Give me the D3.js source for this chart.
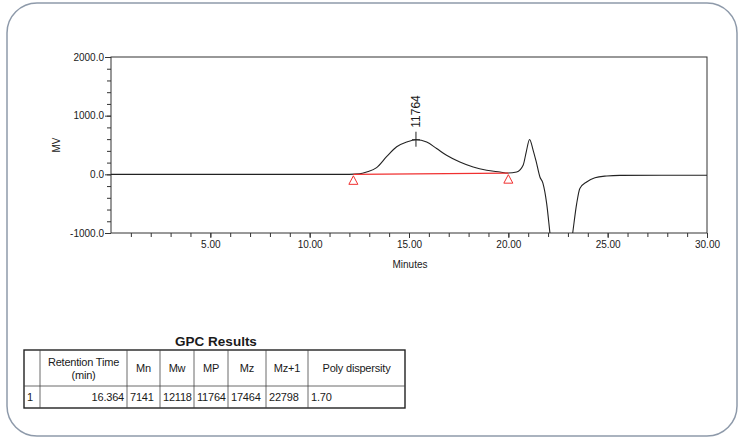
<!DOCTYPE html>
<html>
<head>
<meta charset="utf-8">
<script src="https://cdn.jsdelivr.net/npm/d3@7"></script>
<style>
  body { margin: 0; background: #fff; }
  svg { display: block; font-family: "Liberation Sans", Arial, sans-serif; }
</style>
</head>
<body>
<div id="chart"></div>
<script>
// chromatogram trace (minutes, mV)
const minutes = [0, 12.0, 12.5, 12.87, 13.37, 13.87, 14.38, 14.88, 15.35, 15.89, 16.39, 16.89, 17.56, 18.23, 18.91, 19.58, 19.98, 20.42, 20.75, 20.9, 21.07, 21.25, 21.4, 21.59, 21.74, 21.93, 22.09, 22.6, 23.24, 23.44, 23.6, 23.94, 24.36, 24.95, 25.62, 30]
const mv = [0, 0, 8, 40, 115, 300, 470, 550, 590, 550, 440, 325, 210, 125, 70, 40, 22, 40, 160, 380, 595, 410, 220, -45, -150, -500, -990, -2600, -1000, -500, -240, -130, -57, -28, -17, -15]

// integration baseline (start, end)
const baseTimes = [12.2, 20.0]
const baseValues = [0, 20]

// peak marker
const peakTime = 15.35
const peakValue = 590
const peakLabel = '11764'

const xMajor = [5, 10, 15, 20, 25, 30]
const yMajor = [-1000, 0, 1000, 2000]

// results table
const tableTitle = 'GPC Results'
const headers = [[''], ['Retention Time', '(min)'], ['Mn'], ['Mw'], ['MP'], ['Mz'], ['Mz+1'], ['Poly dispersity']]
const row = ['1', '16.364', '7141', '12118', '11764', '17464', '22798', '1.70']

const W = 746, H = 438
const svg = d3.select('#chart').append('svg').attr('width', W).attr('height', H)

// plain hyphen for negatives, like the original
const fmt = d3.formatLocale({ decimal: '.', thousands: ',', grouping: [3], currency: ['', ''], minus: '-' })

// rounded outer frame
svg.append('rect')
  .attr('x', 7).attr('y', 3).attr('width', 730).attr('height', 433)
  .attr('rx', 30).attr('ry', 30)
  .attr('fill', '#fff').attr('stroke', '#8e9aaa').attr('stroke-width', 1.5)

const pLeft = 111, pRight = 707, pTop = 57, pBottom = 233

const x = d3.scaleLinear().domain([0, 30]).range([pLeft, pRight])
const y = d3.scaleLinear().domain([-1000, 2000]).range([pBottom, pTop])

// plot box
svg.append('rect')
  .attr('x', pLeft).attr('y', pTop).attr('width', pRight - pLeft).attr('height', pBottom - pTop)
  .attr('fill', 'none').attr('stroke', '#333').attr('stroke-width', 1)

// x axis
const xAxis = svg.append('g').attr('transform', `translate(0,${pBottom})`)
xAxis.call(d3.axisBottom(x).tickValues(d3.range(1, 30)).tickSize(4).tickFormat(''))
xAxis.append('g').call(d3.axisBottom(x).tickValues(xMajor).tickSize(5).tickPadding(3).tickFormat(fmt.format('.2f')))
xAxis.selectAll('.domain').remove()
xAxis.selectAll('line').attr('stroke', '#333')
xAxis.selectAll('text').attr('font-size', 10).attr('fill', '#1a1a1a')

// y axis
const yAxis = svg.append('g').attr('transform', `translate(${pLeft},0)`)
yAxis.call(d3.axisLeft(y).tickValues(d3.range(-800, 2000, 200)).tickSize(4).tickFormat(''))
yAxis.append('g').call(d3.axisLeft(y).tickValues(yMajor).tickSize(6).tickPadding(1).tickFormat(fmt.format('.1f')))
yAxis.selectAll('.domain').remove()
yAxis.selectAll('line').attr('stroke', '#333')
yAxis.selectAll('text').attr('font-size', 10).attr('fill', '#1a1a1a')

svg.append('text')
  .attr('transform', `translate(60,${(pTop + pBottom) / 2}) rotate(-90)`)
  .attr('text-anchor', 'middle').attr('font-size', 10).attr('fill', '#1a1a1a')
  .text('MV')

svg.append('text')
  .attr('x', (pLeft + pRight) / 2 + 1).attr('y', 268)
  .attr('text-anchor', 'middle').attr('font-size', 10).attr('fill', '#1a1a1a')
  .text('Minutes')

// trace, clipped to plot area
svg.append('clipPath').attr('id', 'clip')
  .append('rect').attr('x', pLeft).attr('y', pTop).attr('width', pRight - pLeft).attr('height', pBottom - pTop)

const trace = minutes.map((t, i) => [t, mv[i]])
const makeLine = d3.line()
  .x((d) => x(d[0]))
  .y((d) => y(d[1]))
  .curve(d3.curveMonotoneX)

svg.append('path')
  .attr('clip-path', 'url(#clip)')
  .attr('d', makeLine(trace))
  .attr('fill', 'none').attr('stroke', '#222').attr('stroke-width', 1.1)

// baseline + triangles
svg.append('line')
  .attr('x1', x(baseTimes[0])).attr('y1', y(baseValues[0]))
  .attr('x2', x(baseTimes[1])).attr('y2', y(baseValues[1]))
  .attr('stroke', '#f03030').attr('stroke-width', 1.1)

svg.selectAll('path.tri')
  .data(baseTimes)
  .enter()
  .append('path')
  .attr('class', 'tri')
  .attr('transform', (d, i) => `translate(${x(d)},${y(baseValues[i]) + 6})`)
  .attr('d', 'M0,-4.5 L4.5,4 L-4.5,4 Z')
  .attr('fill', '#fff').attr('stroke', '#f03030').attr('stroke-width', 1)

// peak marker
const px = x(peakTime), py = y(peakValue)
svg.append('line').attr('x1', px).attr('x2', px).attr('y1', py - 8).attr('y2', py + 7).attr('stroke', '#222')
svg.append('line').attr('x1', px - 4).attr('x2', px + 4).attr('y1', py).attr('y2', py).attr('stroke', '#222')
svg.append('text')
  .attr('transform', `translate(${px + 4},${py - 12}) rotate(-90)`)
  .attr('font-size', 12).attr('fill', '#1a1a1a')
  .text(peakLabel)

// table
const colEdges = [24, 40, 127, 160, 194, 228, 266, 308, 405]
const tTop = 350, tMid = 386, tBot = 408

svg.append('text')
  .attr('x', 216).attr('y', 346)
  .attr('text-anchor', 'middle').attr('font-size', 13.5).attr('font-weight', 'bold').attr('fill', '#1a1a1a')
  .text(tableTitle)

const table = svg.append('g')
table.append('rect')
  .attr('x', colEdges[0]).attr('y', tTop)
  .attr('width', colEdges[8] - colEdges[0]).attr('height', tBot - tTop)
  .attr('fill', 'none').attr('stroke', '#222').attr('stroke-width', 1.4)
table.append('line')
  .attr('x1', colEdges[0]).attr('x2', colEdges[8]).attr('y1', tMid).attr('y2', tMid)
  .attr('stroke', '#444').attr('stroke-width', 0.8)
table.selectAll('line.col')
  .data(colEdges.slice(1, -1))
  .enter()
  .append('line')
  .attr('class', 'col')
  .attr('x1', (d) => d).attr('x2', (d) => d).attr('y1', tTop).attr('y2', tBot)
  .attr('stroke', '#444').attr('stroke-width', 0.8)

headers.forEach(function (lines, i) {
  const cx = (colEdges[i] + colEdges[i + 1]) / 2
  const cy = (tTop + tMid) / 2
  lines.forEach(function (ln, j) {
    table.append('text')
      .attr('x', cx).attr('y', cy + 4 + (j - (lines.length - 1) / 2) * 13)
      .attr('text-anchor', 'middle').attr('font-size', 11).attr('fill', '#1a1a1a')
      .attr('letter-spacing', -0.2)
      .text(ln)
  })
})

row.forEach(function (v, i) {
  const rightAlign = i === 1
  table.append('text')
    .attr('x', rightAlign ? colEdges[i + 1] - 3 : colEdges[i] + 3)
    .attr('y', tBot - 7)
    .attr('text-anchor', rightAlign ? 'end' : 'start')
    .attr('font-size', 11).attr('fill', '#1a1a1a')
    .attr('letter-spacing', -0.2)
    .text(v)
})
</script>
</body>
</html>
